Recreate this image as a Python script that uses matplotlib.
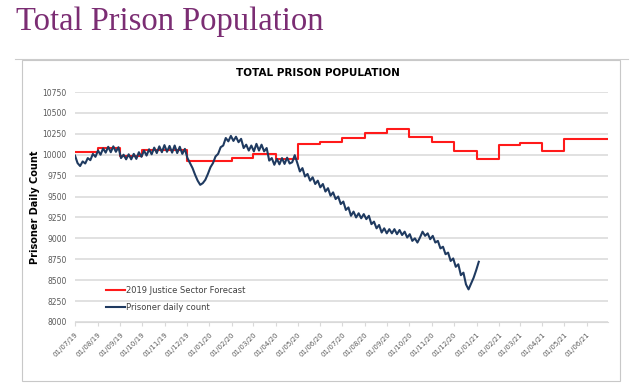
import matplotlib
matplotlib.use('Agg')
import matplotlib.pyplot as plt
import matplotlib.dates as mdates
from matplotlib.patches import Rectangle
from matplotlib.lines import Line2D
import numpy as np
import pandas as pd

# 2019 Justice Sector Forecast, one level per month (Jul 2019 - Jun 2021)
forecast_months = pd.date_range("2019-07-01", "2021-06-01", freq="MS")
forecast = [10035, 10075, 9980, 10055, 10055, 9925, 9925, 9957, 10008, 9945,
            10124, 10148, 10196, 10264, 10307, 10215, 10148, 10048, 9949, 10112,
            10144, 10044, 10184, 10184]

# Prisoner daily count, read off roughly every half week from 1 Jul 2019
count = [9990, 9900, 9865, 9920, 9895, 9960, 9935, 10010, 9975, 10050,
         10000, 10075, 10025, 10095, 10030, 10100, 10035, 10090, 9960, 10000,
         9945, 10005, 9945, 10010, 9950, 10030, 9975, 10050, 9990, 10065,
         10005, 10085, 10020, 10100, 10030, 10115, 10035, 10105, 10025, 10110,
         10020, 10095, 10010, 10070, 9960, 9900, 9840, 9760, 9690, 9640,
         9660, 9700, 9770, 9850, 9900, 9980, 10010, 10090, 10110, 10200,
         10160, 10225, 10165, 10215, 10150, 10190, 10080, 10120, 10050, 10110,
         10040, 10130, 10050, 10120, 10040, 10080, 9930, 9960, 9880, 9950,
         9885, 9960, 9890, 9965, 9895, 9910, 9995, 9900, 9800, 9840,
         9740, 9770, 9690, 9730, 9650, 9690, 9610, 9650, 9560, 9600,
         9510, 9550, 9470, 9500, 9410, 9440, 9340, 9370, 9270, 9320,
         9250, 9300, 9240, 9290, 9230, 9270, 9170, 9200, 9120, 9160,
         9070, 9120, 9060, 9110, 9060, 9110, 9050, 9100, 9040, 9080,
         9010, 9050, 8970, 9000, 8950, 9010, 9080, 9030, 9060, 8990,
         9030, 8950, 8970, 8880, 8900, 8810, 8830, 8730, 8760, 8660,
         8690, 8560, 8590, 8450, 8390, 8460, 8530, 8620, 8720]
count_dates = pd.Timestamp("2019-07-01") + pd.to_timedelta(np.arange(len(count)) * 3.5, unit="D")

y_ticks = np.arange(8000, 10751, 250)

fig = plt.figure(figsize=(6.4, 3.86), dpi=100)
fig.patch.set_facecolor("white")

# page heading and rule
fig.text(16 / 640, 1 - 22 / 386, "Total Prison Population", family="Liberation Serif",
         fontsize=23.5, color="#7b2d73", va="center", ha="left")
fig.add_artist(Line2D([15 / 640, 628 / 640], [1 - 59 / 386] * 2, color="#cccccc", lw=0.8))
fig.add_artist(Rectangle((22 / 640, 1 - 381 / 386), 598 / 640, 321 / 386, fill=False,
                         edgecolor="#c8c8c8", lw=0.8))
fig.text(318 / 640, 1 - 73 / 386, "TOTAL PRISON POPULATION", fontsize=7.5,
         fontweight="bold", ha="center", va="center")

ax = fig.add_axes([75 / 640, 1 - 322 / 386, 533 / 640, 230 / 386])

steps_x = list(forecast_months) + [pd.Timestamp("2021-06-30")]
steps_y = forecast + [forecast[-1]]
ax.step(steps_x, steps_y, where="post", color="#ff1a1a", lw=1.5,
        label="2019 Justice Sector Forecast", zorder=3)
ax.plot(count_dates, count, color="#1f3a60", lw=1.5, label="Prisoner daily count", zorder=4)

ax.set_ylim(8000, 10750)
ax.set_yticks(y_ticks)
ax.set_xlim(pd.Timestamp("2019-07-01"), pd.Timestamp("2021-06-30"))
ax.xaxis.set_major_locator(mdates.MonthLocator())
ax.xaxis.set_major_formatter(mdates.DateFormatter("%d/%m/%y"))
ax.grid(axis="y", color="#d9d9d9", lw=1.1)
ax.set_axisbelow(True)
for s in ["top", "right", "left"]:
    ax.spines[s].set_visible(False)
ax.spines["bottom"].set_color("#d9d9d9")
ax.tick_params(axis="y", length=0, labelsize=5.5, labelcolor="#595959", pad=6)
ax.tick_params(axis="x", length=3, color="#d9d9d9", labelsize=5, labelcolor="#595959")
plt.setp(ax.get_xticklabels(), rotation=45, ha="right", rotation_mode="anchor")

ax.set_ylabel("Prisoner Daily Count", fontsize=7, fontweight="bold", labelpad=2)

leg = ax.legend(loc="lower left", bbox_to_anchor=(0.045, 0.01), frameon=False,
                fontsize=6, handlelength=2.2, handletextpad=0.1, labelspacing=1.0,
                labelcolor="#404040")

fig.savefig("out.png", dpi=100)
